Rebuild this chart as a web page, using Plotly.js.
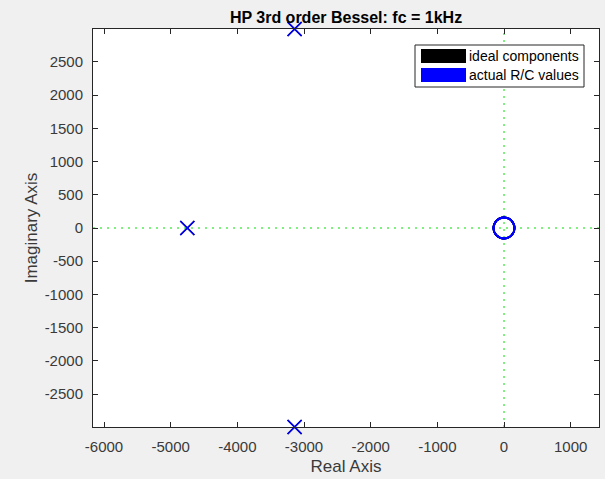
<!DOCTYPE html>
<html>
<head>
<meta charset="utf-8">
<script src="https://cdn.plot.ly/plotly-3.0.1.min.js"></script>
<style>html,body{margin:0;padding:0;background:#f0f0f0;}#chart{width:605px;height:479px;}</style>
</head>
<body>
<div id="chart"></div>
<script>
// Data
const seriesNames = ["ideal components", "actual R/C values"];
const idealPoleRe = [-4750, -3141, -3141];
const idealPoleIm = [0, 2996, -2996];
const idealZeroRe = [0, 0, 0];
const idealZeroIm = [0, 0, 0];
const actualPoleRe = [-4750, -3141, -3141];
const actualPoleIm = [0, 2996, -2996];
const actualZeroRe = [0, 0, 0];
const actualZeroIm = [0, 0, 0];
const xTicks = [-6000, -5000, -4000, -3000, -2000, -1000, 0, 1000];
const yTicks = [-2500, -2000, -1500, -1000, -500, 0, 500, 1000, 1500, 2000, 2500];

const FONT = '"Liberation Sans", Arial, Helvetica, sans-serif';
const AX = '#262626';
const LBL = '#3a3a3a';

function poleTrace(x, y, color) {
  return {type: 'scatter', mode: 'markers', x: x, y: y, showlegend: false, hoverinfo: 'skip', cliponaxis: false,
    marker: {symbol: 'x-thin-open', size: 14, color: color, line: {color: color, width: 1.6}}};
}
function zeroTrace(x, y, color) {
  return {type: 'scatter', mode: 'markers', x: x, y: y, showlegend: false, hoverinfo: 'skip', cliponaxis: false,
    marker: {symbol: 'circle-open', size: 21, color: color, line: {color: color, width: 1.8}}};
}

const traces = [
  poleTrace(idealPoleRe, idealPoleIm, '#000000'),
  zeroTrace(idealZeroRe, idealZeroIm, '#000000'),
  poleTrace(actualPoleRe, actualPoleIm, '#0000ff'),
  zeroTrace(actualZeroRe, actualZeroIm, '#0000ff')
];

// plot area pixel geometry
const L = 93, R = 6, T = 29, B = 52, W = 605, H = 479;
const pw = W - L - R, ph = H - T - B;
const px = v => (v - L) / pw;
const py = v => 1 - (v - T) / ph;

const shapes = [
  {type: 'line', xref: 'x', yref: 'paper', x0: 0, x1: 0, y0: 0, y1: 1, line: {color: '#00e000', width: 1, dash: '2px,5px'}, layer: 'below'},
  {type: 'line', xref: 'paper', yref: 'y', x0: 0, x1: 1, y0: 0, y1: 0, line: {color: '#00e000', width: 1, dash: '2px,5px'}, layer: 'below'},
  // legend box
  {type: 'rect', xref: 'paper', yref: 'paper', x0: px(415), x1: px(584), y0: py(87), y1: py(45), line: {color: AX, width: 1}, fillcolor: '#ffffff'},
  {type: 'rect', xref: 'paper', yref: 'paper', x0: px(421), x1: px(466), y0: py(63), y1: py(49), line: {width: 0}, fillcolor: '#000000'},
  {type: 'rect', xref: 'paper', yref: 'paper', x0: px(421), x1: px(466), y0: py(82), y1: py(68), line: {width: 0}, fillcolor: '#0000ff'}
];
const annotations = [
  {xref: 'paper', yref: 'paper', x: px(467), y: py(56), text: seriesNames[0], showarrow: false, xanchor: 'left', yanchor: 'middle', font: {family: FONT, size: 14, color: '#000'}},
  {xref: 'paper', yref: 'paper', x: px(467), y: py(75), text: seriesNames[1], showarrow: false, xanchor: 'left', yanchor: 'middle', font: {family: FONT, size: 14, color: '#000'}}
];

const axisCommon = {
  showgrid: false, zeroline: false, showline: true, linecolor: AX, linewidth: 1, mirror: 'ticks',
  ticks: 'inside', ticklen: 5, tickcolor: AX, tickwidth: 1,
  tickfont: {family: FONT, size: 15, color: LBL}
};

const layout = {
  width: W, height: H,
  margin: {l: L, r: R, t: T, b: B, pad: 0},
  paper_bgcolor: '#f0f0f0', plot_bgcolor: '#ffffff',
  showlegend: false,
  title: {text: '<b>HP 3rd order Bessel: fc = 1kHz</b>', x: 0.5 * (L + W - R) / W, xanchor: 'center', y: 1 - 17 / H, yanchor: 'middle',
    font: {family: FONT, size: 16, color: '#000'}},
  xaxis: Object.assign({}, axisCommon, {range: [-6165, 1425], tickvals: xTicks, ticktext: xTicks.map(String), ticklabelstandoff: 6,
    title: {text: 'Real Axis', font: {family: FONT, size: 17, color: LBL}, standoff: 6}}),
  yaxis: Object.assign({}, axisCommon, {range: [-2996, 2996], tickvals: yTicks, ticktext: yTicks.map(String), ticklabelstandoff: 6,
    title: {text: 'Imaginary Axis', font: {family: FONT, size: 17, color: LBL}, standoff: 2}}),
  shapes: shapes, annotations: annotations
};

Plotly.newPlot('chart', traces, layout, {displayModeBar: false, staticPlot: true});
</script>
</body>
</html>
